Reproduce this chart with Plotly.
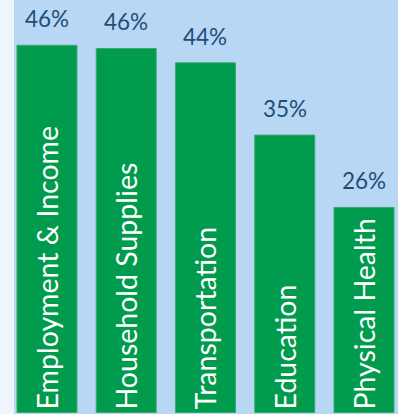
import plotly.graph_objects as go

categories = ["Employment & Income", "Household Supplies", "Transportation", "Education", "Physical Health"]
values = [46.2, 45.8, 44.0, 34.9, 25.8]
labels = ["46%", "46%", "44%", "35%", "26%"]

FONT = "Lato"
fig = go.Figure()
fig.add_trace(go.Bar(
    x=categories, y=values,
    text=categories,
    textposition="inside",
    insidetextanchor="start",
    textangle=-90,
    constraintext="none",
    cliponaxis=False,
    insidetextfont=dict(family=FONT, size=28.5, color="white"),
    marker=dict(color="#009b4d", line=dict(color="#3aab6e", width=1)),
    width=0.757,
    hoverinfo="skip",
))

for c, v, l in zip(categories, values, labels):
    fig.add_annotation(x=c, y=v, text=l, showarrow=False, yanchor="bottom",
                       yshift=11, font=dict(family=FONT, size=22.5, color="#1f4e79"))

fig.update_layout(
    width=398, height=414,
    margin=dict(l=14, r=0, t=0, b=0),
    paper_bgcolor="#eef5fd",
    plot_bgcolor="#b7d7f5",
    showlegend=False,
    xaxis=dict(range=[-0.416, 4.429], showgrid=False, zeroline=False, showticklabels=False, fixedrange=True),
    yaxis=dict(range=[-0.19, 51.9], showgrid=False, zeroline=False, showticklabels=False, fixedrange=True),
)

fig.write_html("out.html", config={"displayModeBar": False})
